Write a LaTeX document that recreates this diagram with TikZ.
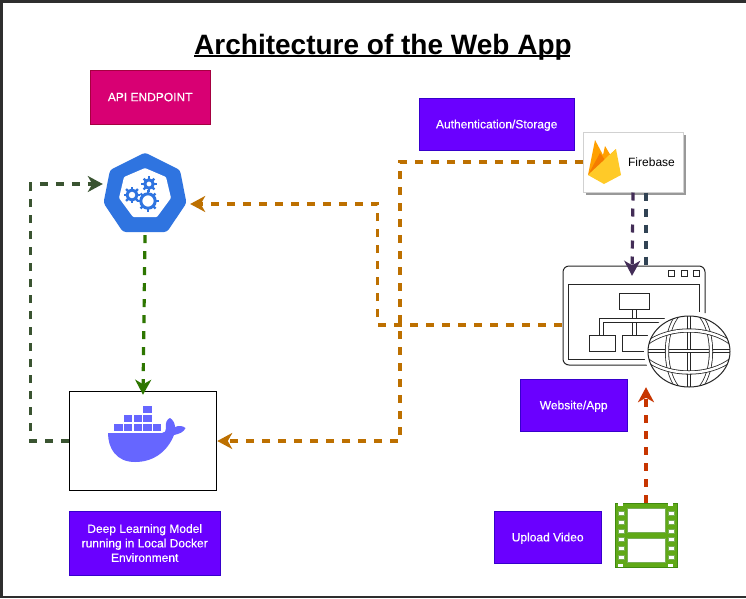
\documentclass[tikz,border=0pt]{standalone}
\usepackage{fontspec}
\setmainfont{Liberation Sans}
\newfontfamily\boxfont[FakeBold=0.35]{Liberation Sans}
\usetikzlibrary{arrows.meta,shadows}
\definecolor{apipink}{HTML}{D80073}
\definecolor{apiedge}{HTML}{A50040}
\definecolor{boxviolet}{HTML}{6A00FF}
\definecolor{boxedge}{HTML}{3700CC}
\definecolor{linkorange}{HTML}{BD7000}
\definecolor{linkgreen}{HTML}{2D7600}
\definecolor{linkmoss}{HTML}{3A5431}
\definecolor{linkplum}{HTML}{432D57}
\definecolor{linkslate}{HTML}{314354}
\definecolor{linkred}{HTML}{C73500}
\definecolor{kubeblue}{HTML}{2F74E0}
\definecolor{dockerblue}{HTML}{6666FF}
\definecolor{reelgreen}{HTML}{60A917}
\definecolor{reeledge}{HTML}{3F8A10}
\definecolor{flameamber}{HTML}{FFA000}
\definecolor{flamedark}{HTML}{F57C00}
\definecolor{flamelight}{HTML}{FFCA28}
\tikzset{
  labelbox/.style={draw=boxedge, fill=boxviolet, text=white, inner sep=0pt, align=center,
    text depth=0pt, font=\boxfont\fontsize{12}{14.5}\selectfont},
  iconspot/.style={inner sep=0pt},
  flow/.style={line width=3.2pt, dash pattern=on 8pt off 8pt,
    -{Stealth[length=15pt,width=16pt,inset=4.5pt]}},
  plainflow/.style={line width=3.2pt, dash pattern=on 8pt off 8pt},
  iconline/.style={line width=1pt, black!85},
  gapline/.style={line width=0.8pt, black!85, double=white, double distance=2.5pt},
}
\begin{document}
\begin{tikzpicture}[x=1pt,y=-1pt]
\useasboundingbox (0,0) rectangle (746,598);
\fill[white] (0,0) rectangle (746,598);
% frame of the screenshot
\fill[black!82] (0,0) rectangle (746,3);
\fill[black!82] (0,0) rectangle (3,598);
\fill[black!82] (0,596) rectangle (746,598);

\node[anchor=base, font=\fontsize{28}{32}\selectfont\bfseries] (title) at (383,54)
  {\rlap{\rule[-3pt]{376pt}{2pt}}Architecture of the Web App};

% text boxes
\node[labelbox, fill=apipink, draw=apiedge, minimum width=120.4pt, minimum height=54pt] (api) at (150.2,97) {API ENDPOINT};
\node[labelbox, minimum width=155.4pt, minimum height=52pt] (auth) at (496.7,124) {Authentication/Storage};
\node[labelbox, minimum width=107.4pt, minimum height=52pt] (webtext) at (573.7,405) {Website/App};
\node[labelbox, minimum width=107.4pt, minimum height=52pt] (upload) at (547.7,537) {Upload Video};
\node[labelbox, minimum width=150.4pt, minimum height=64pt] (model) at (144.7,543) {Deep Learning Model\\running in Local Docker\\Environment};

% icon places
\node[iconspot, minimum width=82pt, minimum height=79pt] (kube) at (145,192.5) {};
\node[draw=black, line width=1pt, fill=white, inner sep=0pt, minimum width=147.5pt, minimum height=99.5pt] (docker) at (143,441) {};
\node[draw=black!18, line width=1pt, fill=white, inner sep=0pt, minimum width=100pt, minimum height=60pt,
  drop shadow={shadow xshift=2.5pt, shadow yshift=-2.5pt, opacity=0.4, fill=black},
  font=\fontsize{12}{14}\selectfont] (firebase) at (633.5,162) {\hspace*{36pt}Firebase};
\node[iconspot, minimum width=168pt, minimum height=122pt] (website) at (646,326) {};
\node[iconspot, minimum width=62pt, minimum height=64pt] (video) at (646,535) {};

% kubernetes
\fill[kubeblue, rounded corners=3pt] (145,152.5) -- (180,170) -- (186.5,203) -- (167,232) -- (123,232) -- (103.5,203) -- (110,170) -- cycle;
\fill[white, rounded corners=1pt] (145,168) -- (166,177) -- (171,198) -- (157,217) -- (133,217) -- (119,198) -- (124,177) -- cycle;
\foreach \cx/\cy/\cr in {132/195/5, 149/184/4.2, 148/201/7.2} {
  \draw[kubeblue, line width=3pt] (\cx,\cy) circle (\cr);
  \foreach \a in {0,45,...,315}
    \draw[kubeblue, line width=2.2pt] (\cx,\cy) ++(\a:\cr) -- ++(\a:3.4);
}

% docker
\fill[dockerblue] (108,433) -- (162,433) .. controls (165,433) and (166,431) .. (166,428)
  .. controls (165,423) and (167,419) .. (170,418) .. controls (173,420) and (175,423) .. (175,427)
  .. controls (179,425) and (183,426) .. (185.5,428) .. controls (184,432) and (179,434) .. (174,435)
  .. controls (168,450) and (155,462) .. (135,462) .. controls (116,462) and (108,448) .. (108,433) -- cycle;
\foreach \bx/\by in {114.3/423.8, 124/423.8, 133.7/423.8, 143.3/423.8, 153/423.8, 124/414.8, 133.7/414.8, 143.3/414.8, 143.3/405.8}
  \fill[dockerblue] (\bx,\by) rectangle ++(8.2,7.6);

% firebase
\fill[flameamber] (588,175) -- (595,140) -- (603,155) -- (605,146) -- (611,156) -- (616,149) -- cycle;
\fill[flamedark] (588,175) -- (600,153) -- (605,160) -- (607,166) -- cycle;
\fill[flamelight] (588,175) -- (616,149) -- (621,175) -- (604,184) -- cycle;

% website
\draw[iconline, rounded corners=6pt] (705,313) -- (705,266) -- (563,266) -- (563,365) -- (650,365);
\draw[iconline] (699,312) -- (699,284) -- (568,284) -- (568,359) -- (648,359);
\foreach \bx in {668,681,693}
  \draw[iconline] (\bx,270) rectangle ++(6,6);
\draw[gapline] (634.5,309) -- (634.5,335);
\draw[gapline] (601.5,335) -- (601.5,320.5) -- (665,320.5);
\draw[iconline, fill=white] (619,293) rectangle (649,309);
\draw[iconline, fill=white] (589,335) rectangle (615,351);
\draw[iconline, fill=white] (622,335) rectangle (648,351);
\fill[white] (689,351.5) ellipse (45 and 39);
\begin{scope}
\clip (689,351.5) ellipse (41 and 35.5);
\draw[gapline] (689,316) -- (689,387);
\draw[gapline] (648,351) -- (730,351);
\draw[gapline] (689,351.5) ellipse (22 and 42);
\draw[gapline] (646,344) .. controls (668,326) and (710,326) .. (732,344);
\draw[gapline] (646,359) .. controls (668,377) and (710,377) .. (732,359);
\end{scope}
\draw[iconline] (689,351.5) ellipse (41 and 35.5);

% video
\fill[reelgreen, draw=reeledge, line width=0.8pt] (615,503) rectangle (677,567);
\fill[white, draw=reeledge!70, line width=1pt] (627,508) rectangle (665,532);
\fill[white, draw=reeledge!70, line width=1pt] (627,538) rectangle (665,562);
\foreach \hy in {513,522,531,539,548,557} {
  \fill[white, draw=reeledge!70, line width=0.6pt] (618,\hy-2) rectangle ++(6,4);
  \fill[white, draw=reeledge!70, line width=0.6pt] (668,\hy-2) rectangle ++(6,4);
}
\foreach \hx in {618,668} {
  \fill[white] (\hx,503) rectangle ++(5,3);
  \fill[white] (\hx,564) rectangle ++(5,3);
}

% links
\draw[flow, linkmoss] (docker.west) -- ++(-38,0) |- ([yshift=8.5pt,xshift=-1pt]kube.west);
\draw[flow, linkgreen] ([yshift=-3pt]kube.south) -- ([yshift=-4pt]docker.north);
\draw[flow, linkorange] ([yshift=1pt]website.west) -- ++(-184,0) |- ([yshift=-11.5pt,xshift=4pt]kube.east);
\draw[flow, linkorange] (firebase.west) -- (400,162) |- (docker.east);
\draw[flow, linkplum] ([xshift=-0.5pt]firebase.south) -- ([xshift=-14pt,yshift=-11pt]website.north);
\draw[plainflow, linkslate] ([xshift=12.5pt]firebase.south) -- (website.north);
\draw[flow, linkred] (video.north) -- (website.south);
\end{tikzpicture}
\end{document}
